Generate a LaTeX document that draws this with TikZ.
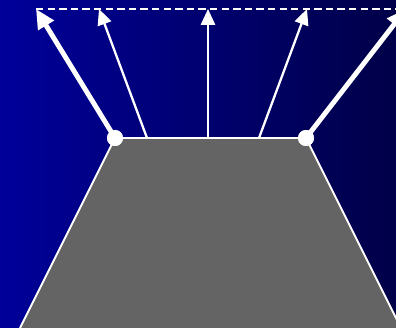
\documentclass[tikz,border=0pt]{standalone}
\usetikzlibrary{arrows.meta}

\definecolor{rfSkyLeft}{HTML}{00009A}
\definecolor{rfSkyRight}{HTML}{000048}
\definecolor{rfBlock}{HTML}{646464}

\tikzset{
  dot/.style={circle,fill=white,inner sep=0pt,minimum size=0.32cm},
  ray/.style={white,line width=1.3pt,-{Triangle[length=9pt,width=8pt]}},
  bigray/.style={white,line width=2.8pt,-{Triangle[length=11pt,width=10pt]}},
}

\begin{document}
\begin{tikzpicture}[x=0.02cm,y=0.02cm]
  % ---- frame and background ----
  \useasboundingbox (0,0) rectangle (396,328);
  \clip (0,0) rectangle (396,328);
  \shade[left color=rfSkyLeft,right color=rfSkyRight] (0,0) rectangle (396,328);

  % ---- block ----
  \filldraw[fill=rfBlock,draw=white,line width=1.1pt]
    (20,0) -- (115,190) -- (306,190) -- (401,0);

  % ---- dashed top line ----
  \coordinate (t1) at (36,319);
  \coordinate (t5) at (396,319);
  \draw[white,line width=1.2pt,dash pattern=on 4.2pt off 2.4pt] (t1) -- (t5);

  % ---- ray ends ----
  \coordinate (b2) at (147,190);
  \coordinate (b3) at (208,190);
  \coordinate (b4) at (259,190);
  \coordinate (t2) at (99,319);
  \coordinate (t3) at (208,319);
  \coordinate (t4) at (307,319);
  \coordinate (tR) at (406,319);

  % ---- rays ----
  \draw[ray] (b2) -- (t2);
  \draw[ray] (b3) -- (t3);
  \draw[ray] (b4) -- (t4);

  % ---- corner points and thick rays ----
  \node[dot] (cL) at (115,190) {};
  \node[dot] (cR) at (306,190) {};
  \draw[bigray] (cL.center) -- (t1);
  \draw[bigray] (cR.center) -- (tR);
  \node[dot] at (cL) {};
  \node[dot] at (cR) {};
\end{tikzpicture}
\end{document}
